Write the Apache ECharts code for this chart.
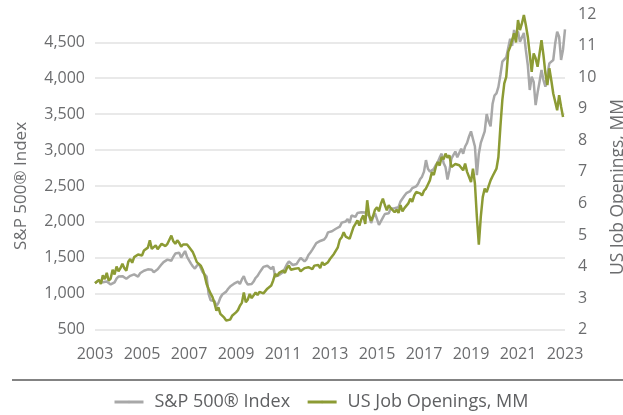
<!DOCTYPE html>
<html>
<head>
<meta charset="utf-8">
<script src="https://cdn.jsdelivr.net/npm/echarts@6/dist/echarts.min.js"></script>
<style>
html,body{margin:0;padding:0;background:#fff;}
#chart{width:623px;height:415px;}
</style>
</head>
<body>
<div id="chart"></div>
<script>
// Monthly values, first point = axis start ("2003"), 12 points per year
const startYear = 2003;
const sp500 = [
  1150,
  1170,1185,1165,1160,1145,1170,1145,1130,1155,1160,1210,1240,
  1225,1245,1240,1210,1225,1250,1270,1270,1275,1240,1285,1310,
  1320,1320,1340,1350,1335,1300,1305,1340,1360,1410,1440,1465,
  1475,1495,1460,1515,1560,1565,1570,1505,1550,1595,1515,1530,
  1420,1380,1350,1390,1420,1360,1300,1310,1240,1000,910,900,
  900,830,870,945,990,1000,1030,1070,1100,1120,1140,1160,
  1170,1135,1200,1245,1170,1130,1125,1135,1170,1220,1250,1295,
  1335,1375,1360,1390,1400,1345,1380,1240,1225,1260,1280,1300,
  1355,1410,1450,1445,1400,1380,1415,1460,1500,1495,1450,1480,
  1540,1575,1615,1635,1705,1685,1735,1740,1755,1790,1855,1880,
  1870,1860,1905,1910,1935,1990,2015,2005,2040,1985,2090,2100,
  2070,2125,2120,2135,2145,2130,2130,2080,1985,2065,2120,2095,
  1960,1950,2060,2110,2105,2120,2185,2210,2190,2180,2205,2285,
  2310,2365,2400,2395,2430,2470,2490,2495,2530,2595,2630,2700,
  2860,2740,2700,2690,2735,2790,2830,2895,2950,2820,2760,2590,
  2720,2880,2900,2980,2900,2960,3020,2950,3050,3100,3190,3260,
  3280,3050,2650,2950,3100,3180,3260,3500,3400,3330,3640,3760,
  3790,3880,4045,4230,4250,4290,4420,4550,4450,4671,4580,4650,
  4509,4520,4630,4393,4184,3836,4021,3950,3627,3800,3950,4114,
  3975,3882,4050,4207,4230,4254,4486,4648,4578,4254,4400,4681
];
const jobOpenings = [
  3.47,3.52,3.58,3.45,3.72,3.60,3.80,3.55,3.62,3.90,3.75,4.00,
  3.85,3.95,4.09,3.95,3.87,4.15,4.24,4.12,4.30,4.25,4.38,4.40,
  4.35,4.51,4.45,4.60,4.83,4.56,4.60,4.67,4.55,4.61,4.72,4.77,
  4.65,4.72,4.68,4.98,4.80,4.72,4.83,4.75,4.63,4.70,4.67,4.70,
  4.62,4.61,4.45,4.30,4.14,4.20,4.03,3.90,3.71,3.45,3.29,3.15,
  3.03,2.85,2.60,2.71,2.50,2.45,2.38,2.29,2.35,2.32,2.44,2.50,
  2.55,2.62,2.76,2.85,3.18,2.87,2.95,3.13,3.00,3.05,3.18,3.10,
  3.20,3.24,3.15,3.20,3.30,3.24,3.40,3.56,3.77,3.70,3.80,3.75,
  3.87,3.80,3.95,4.03,3.90,3.95,3.93,3.88,3.95,3.85,3.87,3.95,
  3.90,3.98,4.00,3.92,4.03,4.00,4.05,3.95,4.14,4.05,4.10,4.14,
  4.24,4.30,4.40,4.45,4.61,4.85,4.93,5.09,4.95,5.00,4.88,4.90,
  5.25,5.35,5.46,5.30,5.50,5.62,5.35,6.10,5.62,5.45,5.60,5.80,
  5.88,5.75,5.99,6.15,5.95,5.78,5.94,5.85,5.90,5.72,5.80,5.70,
  5.95,5.75,5.85,5.80,6.00,6.15,6.05,6.25,6.36,6.30,6.32,6.25,
  6.40,6.47,6.60,6.73,6.99,6.90,7.15,7.31,7.20,7.47,7.40,7.58,
  7.45,7.52,7.15,7.10,7.25,7.30,7.21,7.15,7.05,7.26,7.00,6.94,
  6.68,7.10,6.63,5.57,4.69,5.57,6.20,6.47,6.36,6.55,6.73,6.86,
  6.89,7.10,7.47,8.42,9.27,9.80,10.01,10.80,10.96,11.17,11.39,11.10,
  11.81,11.49,11.70,11.97,11.65,11.28,11.30,10.17,10.75,10.60,10.33,10.75,
  11.17,10.70,10.12,9.75,10.28,9.90,9.48,9.22,8.95,9.43,9.06,8.74
];
const seriesNames = ['S&P 500® Index', 'US Job Openings, MM'];
const leftAxisTitle = 'S&P 500® Index';
const rightAxisTitle = 'US Job Openings, MM';

const FONT = '"Open Sans", "Noto Sans", sans-serif';
const TXT = '#6b6c6e';

const chart = echarts.init(document.getElementById('chart'), null, {renderer: 'canvas'});
chart.setOption({
  animation: false,
  backgroundColor: '#ffffff',
  textStyle: {fontFamily: FONT},
  grid: {left: 95, right: 58, top: 14, bottom: 85.3, containLabel: false},
  legend: {
    left: 108, top: 388,
    itemWidth: 29, itemHeight: 3, itemGap: 16,
    lineStyle: {width: 3},
    textStyle: {fontFamily: FONT, fontSize: 18, color: '#5f6062', padding: [0, 0, 0, 6]},
    data: seriesNames
  },
  xAxis: {
    type: 'value', min: 0, max: 20, interval: 2,
    axisLine: {show: false}, axisTick: {show: false}, splitLine: {show: false},
    axisLabel: {
      fontFamily: FONT, fontSize: 16, color: TXT, margin: 17,
      formatter: v => String(startYear + v)
    }
  },
  yAxis: [
    {
      type: 'value', position: 'left', min: 500, max: 4894, interval: 500,
      axisLine: {show: false}, axisTick: {show: false},
      splitLine: {show: true, showMaxLine: false, lineStyle: {color: '#e2e2e2', width: 1.5}},
      axisLabel: {fontFamily: FONT, fontSize: 16, color: TXT, margin: 10, showMaxLabel: false}
    },
    {
      type: 'value', position: 'right', min: 2, max: 12, interval: 1,
      axisLine: {show: false}, axisTick: {show: false}, splitLine: {show: false},
      axisLabel: {fontFamily: FONT, fontSize: 16, color: TXT, margin: 13}
    }
  ],
  graphic: [
    {type: 'text', x: 21.5, y: 186, rotation: Math.PI / 2,
     style: {text: leftAxisTitle, fontFamily: FONT, fontSize: 17, fill: TXT, align: 'center', verticalAlign: 'middle'}},
    {type: 'text', x: 618.5, y: 187, rotation: Math.PI / 2,
     style: {text: rightAxisTitle, fontFamily: FONT, fontSize: 17.5, fill: TXT, align: 'center', verticalAlign: 'middle'}},
    {type: 'line', shape: {x1: 12, y1: 380, x2: 623, y2: 380}, style: {stroke: '#5a5a5a', lineWidth: 1.5}}
  ],
  series: [
    {
      name: seriesNames[0], type: 'line', yAxisIndex: 0, showSymbol: false, symbol: 'none',
      lineStyle: {color: '#a8a8a8', width: 2.5}, itemStyle: {color: '#a8a8a8'},
      data: sp500.map((v, i) => [i / 12, v])
    },
    {
      name: seriesNames[1], type: 'line', yAxisIndex: 1, showSymbol: false, symbol: 'none',
      lineStyle: {color: '#8c9b34', width: 2.5}, itemStyle: {color: '#8c9b34'},
      data: jobOpenings.map((v, i) => [i / 12, v])
    }
  ]
});
</script>
</body>
</html>
